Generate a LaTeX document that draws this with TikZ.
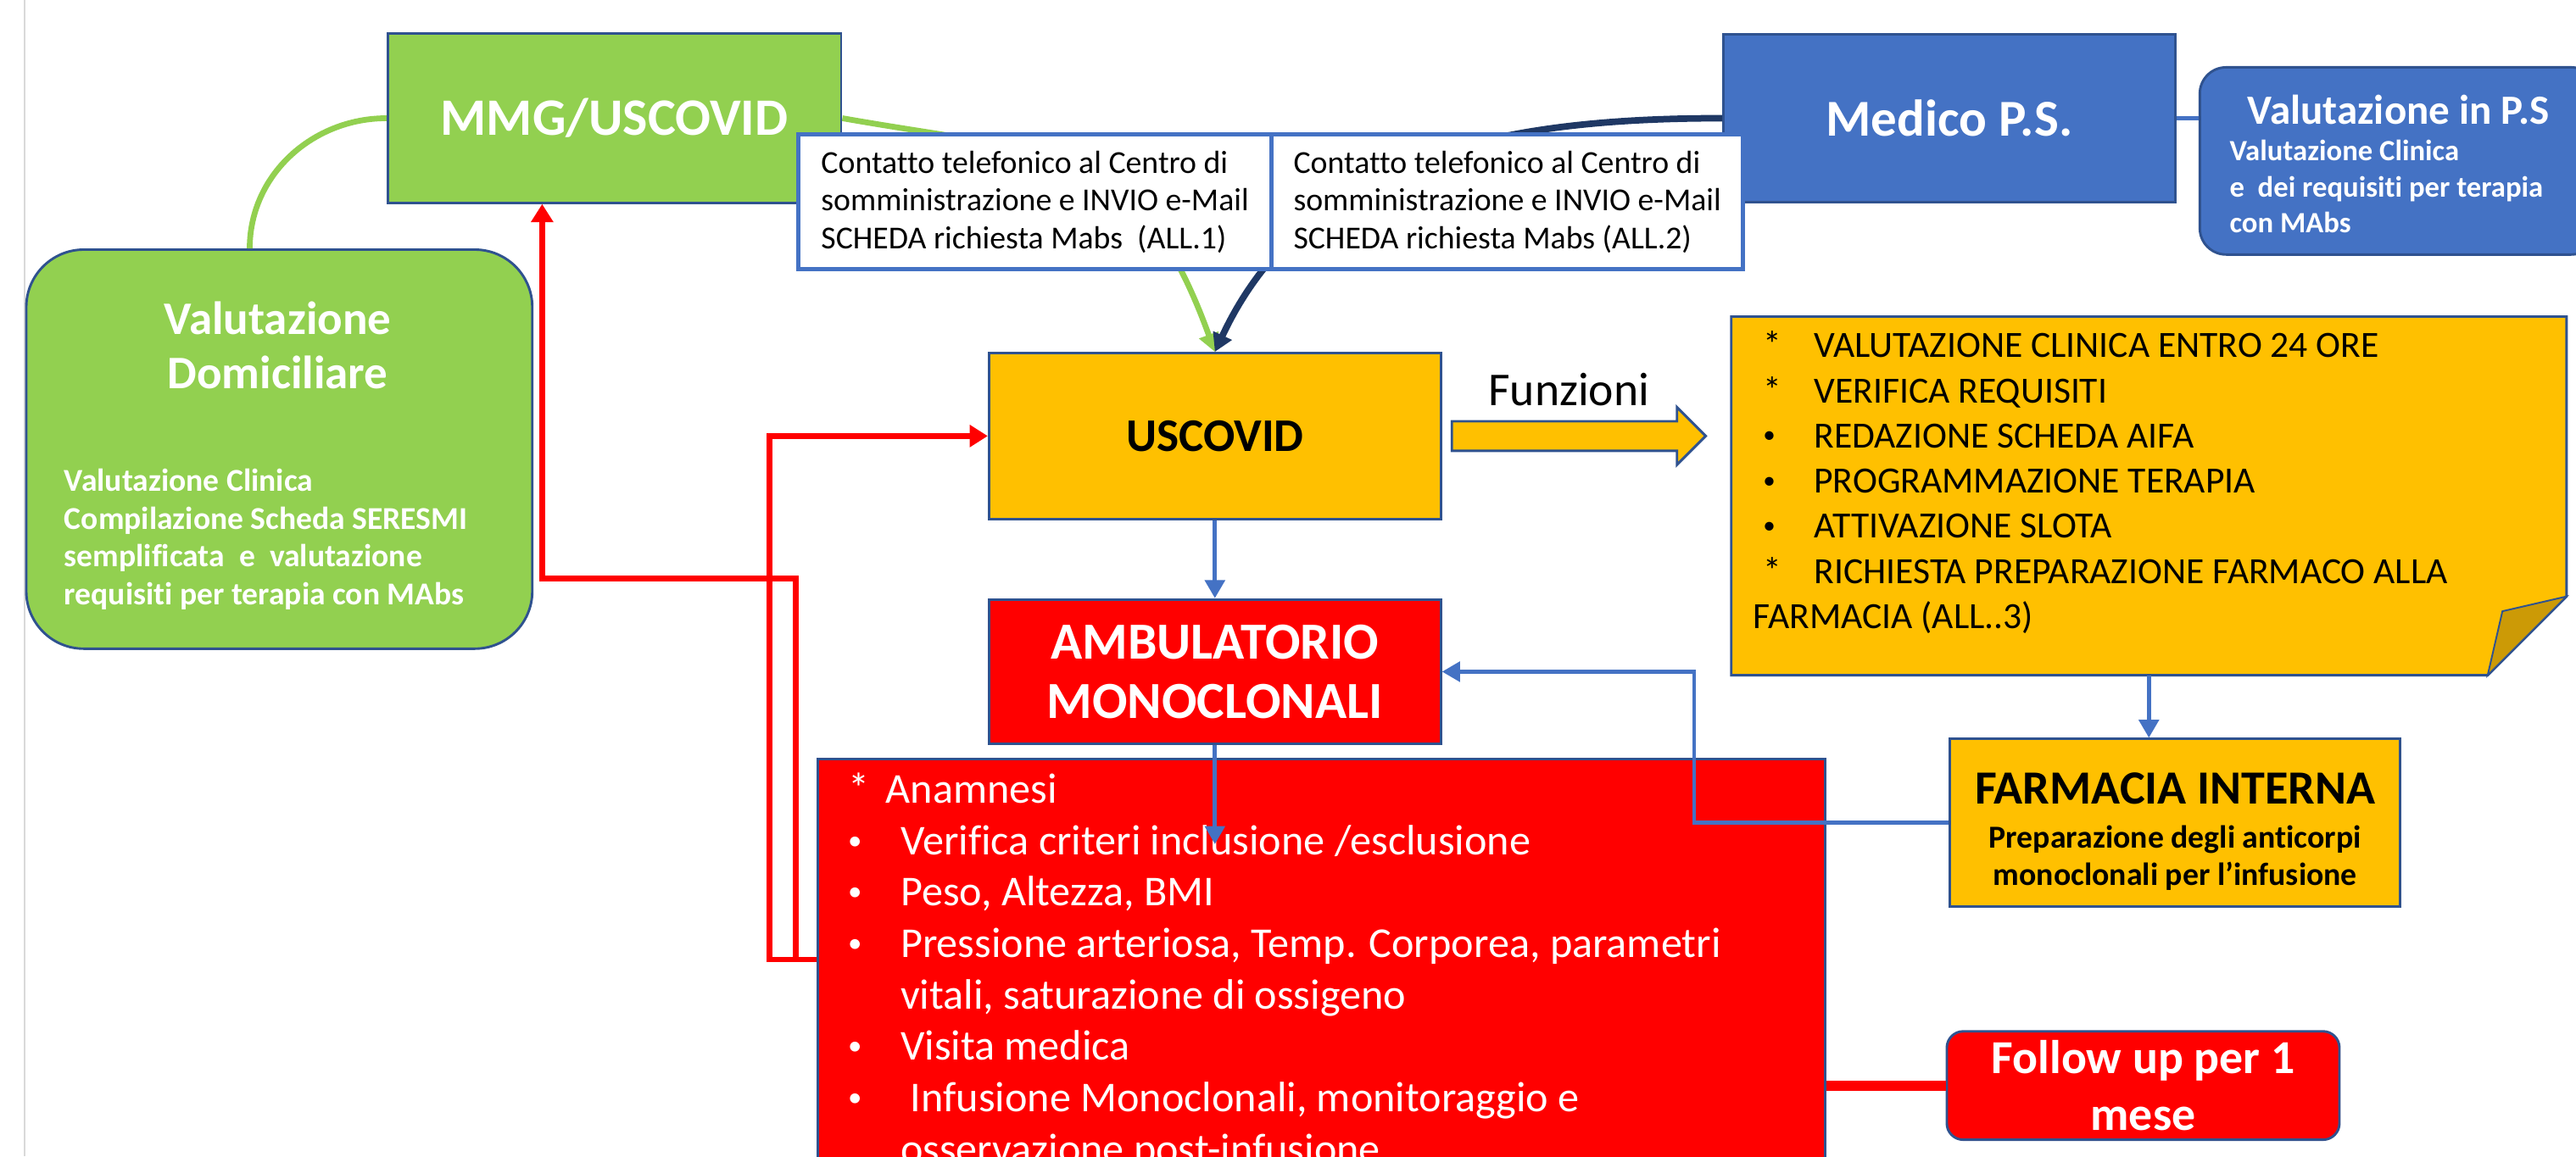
\documentclass[tikz,border=0pt]{standalone}
\usepackage{fontspec}
\setmainfont{Carlito}[Ligatures=NoCommon]
\usetikzlibrary{arrows.meta}

\definecolor{mmggreen}{HTML}{92D050}
\definecolor{psblue}{HTML}{4472C4}
\definecolor{usorange}{HTML}{FFC000}
\definecolor{ambred}{HTML}{FF0000}
\definecolor{edgeblue}{HTML}{2F528F}
\definecolor{navyline}{HTML}{1F3864}
\definecolor{foldorange}{HTML}{CC9A06}
\definecolor{pagegray}{HTML}{D9D9D9}

\newcommand{\fbul}[1]{\makebox[37pt][l]{\hspace{6pt}#1}}
\newcommand{\cbul}[1]{\makebox[32pt][l]{#1}}
\newcommand{\fundot}{\raisebox{2.8pt}{\fontsize{15}{15}\selectfont •}}
\newcommand{\chkdot}{\raisebox{3.2pt}{\fontsize{17}{17}\selectfont •}}

\begin{document}
\begin{tikzpicture}[x=1pt,y=1pt,
    box/.style={draw=edgeblue,line width=1.5pt,inner sep=0pt,align=center},
    note/.style={draw=psblue,line width=2.5pt,fill=white,inner sep=0pt,align=left,
        minimum width=288pt,minimum height=82pt,font=\fontsize{19.5}{23}\selectfont},
    bluearrow/.style={psblue,line width=2.5pt,-{Triangle[length=11pt,width=12pt]}},
    redarrow/.style={ambred,line width=3.5pt,-{Triangle[length=11pt,width=13pt]}}]
    \useasboundingbox (0,0) rectangle (1568,704);
    \clip (0,0) rectangle (1568,704);
    \draw[pagegray,line width=1pt] (15,0) -- (15,704);

    \node[box,fill=mmggreen,rounded corners=35pt,minimum width=308pt,minimum height=243pt] (vd) at (170,430.5) {};
    \node[text=white,font=\bfseries\fontsize{28.4}{33}\selectfont,align=center,inner sep=0pt] (vdtitle) at (169,493.5) {Valutazione\\Domiciliare};
    \node[text=white,font=\bfseries\fontsize{19.4}{23}\selectfont,align=left,inner sep=0pt,anchor=north west] (vdtext) at (39,418.6) {Valutazione Clinica\\Compilazione Scheda SERESMI\\semplificata ~e ~valutazione\\requisiti per terapia con MAbs};

    \node[box,fill=mmggreen,minimum width=276pt,minimum height=103pt,text=white,font=\bfseries\fontsize{32}{38}\selectfont] (mmg) at (374,632) {MMG/USCOVID};
    \node[box,fill=psblue,minimum width=275pt,minimum height=102pt,text=white,font=\bfseries\fontsize{31.5}{38}\selectfont] (medico) at (1186.5,632) {Medico P.S.};
    \node[box,fill=psblue,rounded corners=16pt,minimum width=242pt,minimum height=114pt] (ps) at (1460,606) {};
    \node[text=white,font=\bfseries\fontsize{25.3}{30}\selectfont,inner sep=0pt] (pstitle) at (1460,637) {Valutazione in P.S};
    \node[text=white,font=\bfseries\fontsize{17.9}{22}\selectfont,align=left,inner sep=0pt,anchor=north west] (pstext) at (1357,619) {Valutazione Clinica\\e ~dei requisiti per terapia\\con MAbs};

    \node[box,fill=usorange,minimum width=275pt,minimum height=101pt,font=\bfseries\fontsize{28.5}{34}\selectfont] (uscovid) at (739.5,438.5) {USCOVID};
    \node[box,fill=ambred,minimum width=275pt,minimum height=88pt,text=white,font=\bfseries\fontsize{31.7}{36}\selectfont] (amb) at (739.5,295) {AMBULATORIO\\MONOCLONALI};

    \node[inner sep=0pt,minimum width=508pt,minimum height=218pt] (funcs) at (1308,402) {};
    \filldraw[draw=edgeblue,line width=1.5pt,fill=usorange] (funcs.north west) -- (funcs.north east) -- ([yshift=48pt]funcs.south east) -- ([xshift=-48pt]funcs.south east) -- (funcs.south west) -- cycle;
    \filldraw[draw=edgeblue,line width=1pt,fill=foldorange] ([yshift=48pt]funcs.south east) -- ([xshift=-39pt,yshift=39pt]funcs.south east) -- ([xshift=-48pt]funcs.south east) -- cycle;
    \node[font=\fontsize{22.5}{27.5}\selectfont,align=left,inner sep=0pt,anchor=north west] (funcslist) at (1067,502.5) {\fbul{*}VALUTAZIONE CLINICA ENTRO 24 ORE\\\fbul{*}VERIFICA REQUISITI\\\fbul{\fundot}REDAZIONE SCHEDA AIFA\\\fbul{\fundot}PROGRAMMAZIONE TERAPIA\\\fbul{\fundot}ATTIVAZIONE SLOTA\\\fbul{*}RICHIESTA PREPARAZIONE FARMACO ALLA\\FARMACIA (ALL..3)};

    \node[font=\fontsize{28.7}{34}\selectfont,inner sep=0pt] (funzlabel) at (955,467) {Funzioni};
    \filldraw[draw=edgeblue,line width=1.5pt,fill=usorange] ([xshift=6pt,yshift=-9pt]uscovid.east) -- ++(137,0) -- ++(0,-8.5) -- ++(17.5,17.5) -- ++(-17.5,17.5) -- ++(0,-8.5) -- ++(-137,0) -- cycle;

    \node[box,fill=usorange,minimum width=274pt,minimum height=102pt] (farm) at (1324,203) {};
    \node[font=\bfseries\fontsize{29}{34}\selectfont,inner sep=0pt] (farmtitle) at (1324,224) {FARMACIA INTERNA};
    \node[font=\bfseries\fontsize{19.5}{23}\selectfont,align=center,inner sep=0pt] (farmtext) at (1324,181.5) {Preparazione degli anticorpi\\monoclonali per l’infusione};

    \node[box,fill=ambred,minimum width=613pt,minimum height=268pt] (checks) at (804.5,108) {};
    \node[text=white,font=\fontsize{25.9}{31.3}\selectfont,align=left,inner sep=0pt,anchor=north west] (checkstext) at (516,233.5) {\makebox[23pt][l]{*}Anamnesi\\\cbul{\chkdot}Verifica criteri inclusione /esclusione\\\cbul{\chkdot}Peso, Altezza, BMI\\\cbul{\chkdot}Pressione arteriosa, Temp. Corporea, parametri\\\hspace*{32pt}vitali, saturazione di ossigeno\\\cbul{\chkdot}Visita medica\\\cbul{\chkdot}\hspace{6pt}Infusione Monoclonali, monitoraggio e\\\hspace*{32pt}osservazione post-infusione};

    \node[box,fill=ambred,rounded corners=10pt,minimum width=239pt,minimum height=66pt,text=white,font=\bfseries\fontsize{28.8}{35}\selectfont] (follow) at (1304.5,43) {Follow up per 1\\mese};

    \draw[mmggreen,line width=3.5pt] ([xshift=-18pt]vd.north) to[out=90,in=180] (mmg.west);
    \draw[mmggreen,line width=3.5pt,-{Triangle[length=11pt,width=12pt]}] (mmg.east) to[out=-10,in=110,looseness=1.3] (uscovid.north);
    \draw[navyline,line width=4pt,-{Triangle[length=11pt,width=12pt]}] (medico.west) to[out=180,in=65] (uscovid.north);

    \node[note] (call1) at (630,581) {Contatto telefonico al Centro di\\somministrazione e INVIO e-Mail\\SCHEDA richiesta Mabs ~(ALL.1)};
    \node[note,minimum width=287pt] (call2) at (917.5,581) {Contatto telefonico al Centro di\\somministrazione e INVIO e-Mail\\SCHEDA richiesta Mabs (ALL.2)};

    \draw[psblue,line width=3pt] (medico.east) -- (medico.east -| ps.west);
    \draw[bluearrow] (uscovid.south) -- (amb.north);
    \coordinate (anamtip) at (739.5,190);
    \draw[bluearrow] (amb.south) -- (anamtip);
    \draw[bluearrow] (funcs.south) -- (funcs.south |- farm.north);
    \draw[bluearrow] (farm.west) -- ++(-155,0) |- (amb.east);
    \draw[redarrow] ([yshift=-123pt]checks.north west) -- ++(-29,0) |- (uscovid.west);
    \draw[redarrow] ([yshift=-123pt]checks.north west) -- ++(-13,0) -- ++(0,232) -| ([xshift=-44pt]mmg.south);
    \draw[ambred,line width=6pt] (follow.west -| checks.east) -- (follow.west);
\end{tikzpicture}
\end{document}
